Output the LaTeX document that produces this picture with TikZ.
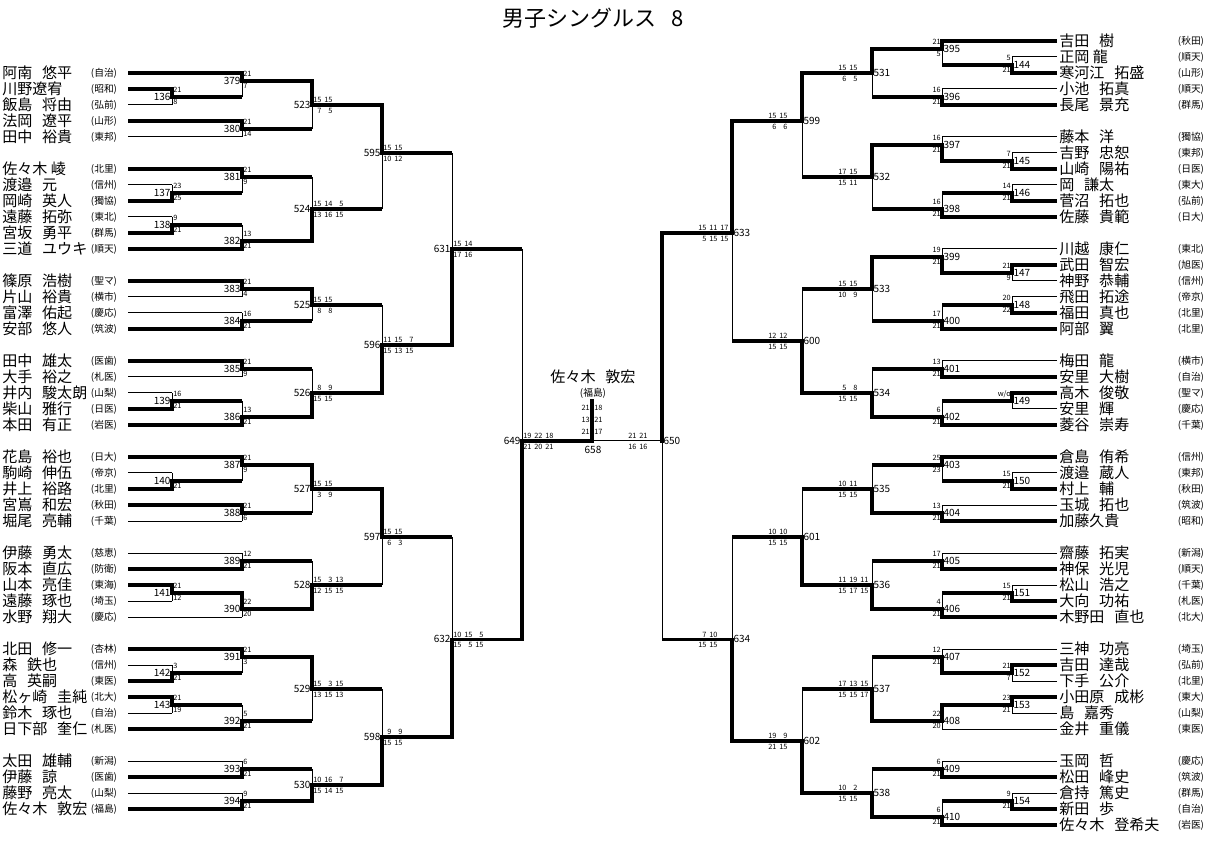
\documentclass[tikz,border=0pt]{standalone}
\usepackage{fontspec}
\setmainfont{Noto Sans CJK JP}
\tikzset{
  thinln/.style={line width=0.75pt},
  thickln/.style={line width=2.5pt},
  vthick/.style={line width=2.5pt, line cap=rect},
  pname/.style={font=\fontsize{11.3}{11.3}\selectfont, inner sep=0pt},
  school/.style={font=\fontsize{7.3}{7.3}\selectfont, inner sep=0pt},
  mnum/.style={font=\fontsize{7.5}{7.5}\selectfont, inner sep=1pt},
  score/.style={font=\fontsize{5.5}{5.5}\selectfont, inner sep=0pt},
}
\newcommand\gap{\hspace{0.65em}}
\newlength\dw
\newcommand\scr[1]{\settowidth\dw{00}\foreach \sv [count=\si] in {#1}{\ifnum\si>1\hspace{2.2pt}\fi\makebox[\dw][r]{\sv}}}
\newcommand\match[9][thickln]{%
  \pgfmathsetmacro\myt{41+16*#3}%
  \pgfmathsetmacro\myb{41+16*#4}%
  \pgfmathsetmacro\myo{41+16*#5}%
  \pgfmathtruncatemacro\mdir{(#2<592) ? 1 : -1}%
  \pgfmathtruncatemacro\mlvl{or(#2<250,#2>930)}%
  \draw[thinln] (#2,\myt) -- (#2,\myb);
  \if#6t\draw[vthick] (#2,\myt) -- (#2,\myo);\else\draw[vthick] (#2,\myb) -- (#2,\myo);\fi
  \draw[#1] (#2,\myo) -- ({#2+70*\mdir},\myo);
  \ifnum\mdir=1
    \node[mnum, anchor=east] (m#7) at (#2,\myo) {#7};
    \ifnum\mlvl=1
      \node[score, anchor=west] (s#7a) at (#2+1,\myo-7) {#8};
      \node[score, anchor=west] (s#7b) at (#2+1,\myo+5) {#9};
    \else
      \node[score, anchor=west] (s#7a) at (#2+1,\myo-5) {\scr{#8}};
      \node[score, anchor=west] (s#7b) at (#2+1,\myo+6) {\scr{#9}};
    \fi
  \else
    \node[mnum, anchor=west] (m#7) at (#2,\myo) {#7};
    \ifnum\mlvl=1
      \node[score, anchor=east] (s#7a) at (#2-1,\myo-7) {#8};
      \node[score, anchor=east] (s#7b) at (#2-1,\myo+5) {#9};
    \else
      \node[score, anchor=west] (s#7a) at (#2-34,\myo-5) {\scr{#8}};
      \node[score, anchor=west] (s#7b) at (#2-34,\myo+6) {\scr{#9}};
    \fi
  \fi
}

\begin{document}
\begin{tikzpicture}[x=0.75pt, y=-0.75pt]
\useasboundingbox (0,0) rectangle (1214,841);
\node[font=\fontsize{16.5}{16.5}\selectfont] (title) at (593,18) {男子シングルス\gap 8};

\foreach \r/\nm/\sc/\xe/\st in {
  2/阿南\gap 悠平/自治/242/thickln, 3/川野遼宥/昭和/172/thickln, 4/飯島\gap 将由/弘前/172/thinln,
  5/法岡\gap 遼平/山形/242/thickln, 6/田中\gap 裕貴/東邦/242/thinln,
  8/佐々木 崚/北里/242/thickln, 9/渡邉\gap 元/信州/172/thinln, 10/岡崎\gap 英人/獨協/172/thickln,
  11/遠藤\gap 拓弥/東北/172/thinln, 12/宮坂\gap 勇平/群馬/172/thickln, 13/三道\gap ユウキ/順天/242/thickln,
  15/篠原\gap 浩樹/聖マ/242/thickln, 16/片山\gap 裕貴/横市/242/thinln, 17/富澤\gap 佑起/慶応/242/thinln,
  18/安部\gap 悠人/筑波/242/thickln,
  20/田中\gap 雄太/医歯/242/thickln, 21/大手\gap 裕之/札医/242/thinln, 22/井内\gap 駿太朗/山梨/172/thinln,
  23/柴山\gap 雅行/日医/172/thickln, 24/本田\gap 有正/岩医/242/thickln,
  26/花島\gap 裕也/日大/242/thickln, 27/駒崎\gap 伸伍/帝京/172/thinln, 28/井上\gap 裕路/北里/172/thickln,
  29/宮嶌\gap 和宏/秋田/242/thickln, 30/堀尾\gap 亮輔/千葉/242/thinln,
  32/伊藤\gap 勇太/慈恵/242/thinln, 33/阪本\gap 直広/防衛/242/thickln, 34/山本\gap 亮佳/東海/172/thickln,
  35/遠藤\gap 琢也/埼玉/172/thinln, 36/水野\gap 翔大/慶応/242/thinln,
  38/北田\gap 修一/杏林/242/thickln, 39/森\gap 鉄也/信州/172/thinln, 40/高\gap 英嗣/東医/172/thickln,
  41/松ヶ崎\gap 圭純/北大/172/thickln, 42/鈴木\gap 琢也/自治/172/thinln, 43/日下部\gap 奎仁/札医/242/thickln,
  45/太田\gap 雄輔/新潟/242/thinln, 46/伊藤\gap 諒/医歯/242/thickln, 47/藤野\gap 亮太/山梨/242/thinln,
  48/佐々木\gap 敦宏/福島/242/thickln}{
  \node[pname, anchor=west] (nL\r) at (2,{41+16*\r}) {\nm};
  \node[school] (sL\r) at (104,{41+16*\r}) {(\sc)};
  \draw[\st] (128,{41+16*\r}) -- (\xe,{41+16*\r});
}

\foreach \r/\nm/\sc/\xe/\st in {
  0/吉田\gap 樹/秋田/942/thickln, 1/正岡 龍/順天/1012/thinln, 2/寒河江\gap 拓盛/山形/1012/thickln,
  3/小池\gap 拓真/順天/942/thinln, 4/長尾\gap 景充/群馬/942/thickln,
  6/藤本\gap 洋/獨協/942/thinln, 7/吉野\gap 忠恕/東邦/1012/thinln, 8/山崎\gap 陽祐/日医/1012/thickln,
  9/岡\gap 謙太/東大/1012/thinln, 10/菅沼\gap 拓也/弘前/1012/thickln, 11/佐藤\gap 貴範/日大/942/thickln,
  13/川越\gap 康仁/東北/942/thinln, 14/武田\gap 智宏/旭医/1012/thickln, 15/神野\gap 恭輔/信州/1012/thinln,
  16/飛田\gap 拓途/帝京/1012/thinln, 17/福田\gap 真也/北里/1012/thickln, 18/阿部\gap 翼/北里/942/thickln,
  20/梅田\gap 龍/横市/942/thinln, 21/安里\gap 大樹/自治/942/thickln, 22/高木\gap 俊敬/聖マ/1012/thickln,
  23/安里\gap 輝/慶応/1012/thinln, 24/菱谷\gap 崇寿/千葉/942/thickln,
  26/倉島\gap 侑希/信州/942/thickln, 27/渡邉\gap 蔵人/東邦/1012/thinln, 28/村上\gap 輔/秋田/1012/thickln,
  29/玉城\gap 拓也/筑波/942/thinln, 30/加藤久貴/昭和/942/thickln,
  32/齋藤\gap 拓実/新潟/942/thinln, 33/神保\gap 光児/順天/942/thickln, 34/松山\gap 浩之/千葉/1012/thinln,
  35/大向\gap 功祐/札医/1012/thickln, 36/木野田\gap 直也/北大/942/thickln,
  38/三神\gap 功亮/埼玉/942/thinln, 39/吉田\gap 達哉/弘前/1012/thickln, 40/下手\gap 公介/北里/1012/thinln,
  41/小田原\gap 成彬/東大/1012/thickln, 42/島\gap 嘉秀/山梨/1012/thinln, 43/金井\gap 重儀/東医/942/thinln,
  45/玉岡\gap 哲/慶応/942/thinln, 46/松田\gap 峰史/筑波/942/thickln, 47/倉持\gap 篤史/群馬/1012/thinln,
  48/新田\gap 歩/自治/1012/thickln, 49/佐々木\gap 登希夫/岩医/942/thickln}{
  \node[pname, anchor=west] (nR\r) at (1059,{41+16*\r}) {\nm};
  \node[school] (sR\r) at (1191,{41+16*\r}) {(\sc)};
  \draw[\st] (1057,{41+16*\r}) -- (\xe,{41+16*\r});
}

\match{172}{3}{4}{3.5}{t}{136}{21}{8}
\match{242}{2}{3.5}{2.5}{t}{379}{21}{7}
\match{242}{5}{6}{5.5}{t}{380}{21}{14}
\match{312}{2.5}{5.5}{4}{t}{523}{15,15}{7,5}
\match{172}{9}{10}{9.5}{b}{137}{23}{25}
\match{242}{8}{9.5}{8.5}{t}{381}{21}{9}
\match{172}{11}{12}{11.5}{b}{138}{9}{21}
\match{242}{11.5}{13}{12.5}{b}{382}{13}{21}
\match{312}{8.5}{12.5}{10.5}{b}{524}{15,14,5}{13,16,15}
\match{382}{4}{10.5}{7}{t}{595}{15,15}{10,12}
\match{242}{15}{16}{15.5}{t}{383}{21}{4}
\match{242}{17}{18}{17.5}{b}{384}{16}{21}
\match{312}{15.5}{17.5}{16.5}{t}{525}{15,15}{8,8}
\match{242}{20}{21}{20.5}{t}{385}{21}{9}
\match{172}{22}{23}{22.5}{b}{139}{16}{21}
\match{242}{22.5}{24}{23.5}{b}{386}{13}{21}
\match{312}{20.5}{23.5}{22}{b}{526}{8,9}{15,15}
\match{382}{16.5}{22}{19}{b}{596}{11,15,7}{15,13,15}
\match{452}{7}{19}{13}{b}{631}{15,14}{17,16}
\match{172}{27}{28}{27.5}{b}{140}{}{21}
\match{242}{26}{27.5}{26.5}{t}{387}{21}{9}
\match{242}{29}{30}{29.5}{t}{388}{21}{6}
\match{312}{26.5}{29.5}{28}{t}{527}{15,15}{3,9}
\match{242}{32}{33}{32.5}{b}{389}{12}{21}
\match{172}{34}{35}{34.5}{t}{141}{21}{12}
\match{242}{34.5}{36}{35.5}{t}{390}{22}{20}
\match{312}{32.5}{35.5}{34}{b}{528}{15,3,13}{12,15,15}
\match{382}{28}{34}{31}{t}{597}{15,15}{6,3}
\match{172}{39}{40}{39.5}{b}{142}{3}{21}
\match{242}{38}{39.5}{38.5}{t}{391}{21}{3}
\match{172}{41}{42}{41.5}{t}{143}{21}{19}
\match{242}{41.5}{43}{42.5}{b}{392}{5}{21}
\match{312}{38.5}{42.5}{40.5}{t}{529}{15,3,15}{13,15,13}
\match{242}{45}{46}{45.5}{b}{393}{6}{21}
\match{242}{47}{48}{47.5}{b}{394}{9}{21}
\match{312}{45.5}{47.5}{46.5}{b}{530}{10,16,7}{15,14,15}
\match{382}{40.5}{46.5}{43.5}{b}{598}{9,9}{15,15}
\match{452}{31}{43.5}{37.4}{b}{632}{10,15,5}{15,5,15}
\match{522}{13}{37.4}{25}{b}{649}{19,22,18}{21,20,21}

\match{1012}{1}{2}{1.5}{b}{144}{5}{21}
\match{942}{0}{1.5}{0.5}{t}{395}{21}{5}
\match{942}{3}{4}{3.5}{b}{396}{16}{21}
\match{872}{0.5}{3.5}{2}{t}{531}{15,15}{6,5}
\match{1012}{7}{8}{7.5}{b}{145}{7}{21}
\match{942}{6}{7.5}{6.5}{b}{397}{16}{21}
\match{1012}{9}{10}{9.5}{b}{146}{14}{21}
\match{942}{9.5}{11}{10.5}{b}{398}{16}{21}
\match{872}{6.5}{10.5}{8.5}{t}{532}{17,15}{15,11}
\match{802}{2}{8.5}{5}{t}{599}{15,15}{6,6}
\match{1012}{14}{15}{14.5}{t}{147}{21}{9}
\match{942}{13}{14.5}{13.5}{b}{399}{19}{21}
\match{1012}{16}{17}{16.5}{b}{148}{20}{22}
\match{942}{16.5}{18}{17.5}{b}{400}{17}{21}
\match{872}{13.5}{17.5}{15.5}{t}{533}{15,15}{10,9}
\match{942}{20}{21}{20.5}{b}{401}{13}{21}
\match{1012}{22}{23}{22.5}{t}{149}{w/o}{}
\match{942}{22.5}{24}{23.5}{b}{402}{6}{21}
\match{872}{20.5}{23.5}{22}{b}{534}{5,8}{15,15}
\match{802}{15.5}{22}{18.75}{b}{600}{12,12}{15,15}
\match{732}{5}{18.75}{12}{t}{633}{15,11,17}{5,15,15}
\match{1012}{27}{28}{27.5}{b}{150}{15}{21}
\match{942}{26}{27.5}{26.5}{t}{403}{25}{23}
\match{942}{29}{30}{29.5}{b}{404}{13}{21}
\match{872}{26.5}{29.5}{28}{b}{535}{10,11}{15,15}
\match{942}{32}{33}{32.5}{b}{405}{17}{21}
\match{1012}{34}{35}{34.5}{b}{151}{15}{21}
\match{942}{34.5}{36}{35.5}{b}{406}{4}{21}
\match{872}{32.5}{35.5}{34}{b}{536}{11,19,11}{15,17,15}
\match{802}{28}{34}{31}{b}{601}{10,10}{15,15}
\match{1012}{39}{40}{39.5}{t}{152}{21}{7}
\match{942}{38}{39.5}{38.5}{b}{407}{12}{21}
\match{1012}{41}{42}{41.5}{t}{153}{23}{21}
\match{942}{41.5}{43}{42.5}{t}{408}{22}{20}
\match{872}{38.5}{42.5}{40.5}{b}{537}{17,13,15}{15,15,17}
\match{942}{45}{46}{45.5}{b}{409}{6}{21}
\match{1012}{47}{48}{47.5}{b}{154}{9}{21}
\match{942}{47.5}{49}{48.5}{b}{410}{6}{21}
\match{872}{45.5}{48.5}{47}{b}{538}{10,2}{15,15}
\match{802}{40.5}{47}{43.75}{b}{602}{19,9}{21,15}
\match{732}{31}{43.75}{37.4}{b}{634}{7,10}{15,15}
\match[thinln]{662}{12}{37.4}{25}{t}{650}{21,21}{16,16}

\draw[vthick] (592,441) -- (592,401);
\foreach \a/\b [count=\j] in {21/18,13/21,21/17}{
  \node[score, anchor=east] (fa\j) at (590,{396+12*\j}) {\a};
  \node[score, anchor=west] (fb\j) at (594,{396+12*\j}) {\b};
}
\node[mnum] (m658) at (593,450) {658};
\node[pname] (champ) at (593,377) {佐々木\gap 敦宏};
\node[school] (champs) at (593,393) {(福島)};
\end{tikzpicture}
\end{document}
